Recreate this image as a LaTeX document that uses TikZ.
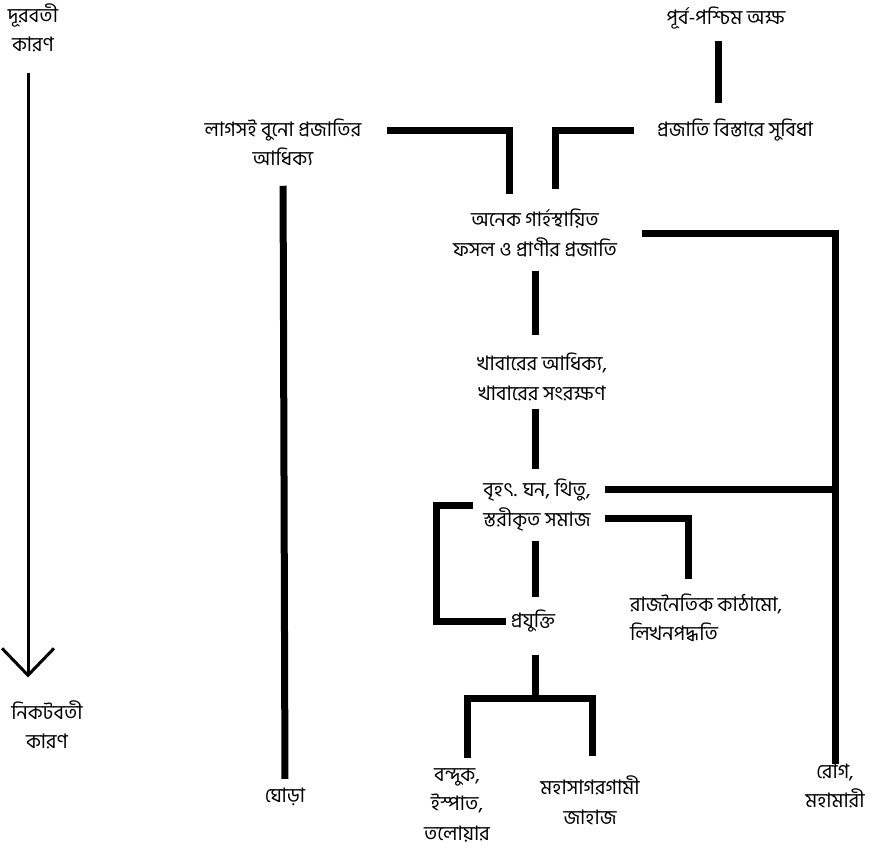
\documentclass[tikz,border=0pt]{standalone}
\usepackage{fontspec}
\newfontfamily\bnfont[Script=Bengali]{Hind Siliguri}
\usetikzlibrary{positioning, arrows.meta, calc}

\tikzset{
  lbl/.style={align=center, inner sep=0pt, font=\bnfont\fontsize{20}{29.5}\selectfont},
  bar/.style={line width=7pt, line join=miter, line cap=butt},
  zeit/.style={line width=3pt, -{Straight Barb[length=27pt, width=52pt, line width=3pt]}}
}

\begin{document}
\begin{tikzpicture}[x=1pt, y=-1pt]
    \useasboundingbox (0,0) rectangle (870,852);
    % Zeitachse links
    \node[lbl] (dur)   at (33,28)  {দূরবতী\\কারণ};
    \node[lbl] (nikot) at (47,725) {নিকটবতী\\কারণ};
    \draw[zeit, shorten <=20pt, shorten >=23pt] ([xshift=-5pt]dur.south) -- ([xshift=-19pt]nikot.north);
    % Knoten
    \node[lbl] (aksha)    at (726,18)  {পূর্ব-পশ্চিম অক্ষ};
    \node[lbl] (bistar)   at (735,130) {প্রজাতি বিস্তারে সুবিধা};
    \node[lbl] (lagsai)   at (283,142) {লাগসই বুনো প্রজাতির\\আধিক্য};
    \node[lbl] (anek)     at (535,233) {অনেক গার্হস্থায়িত\\ফসল ও প্রাণীর প্রজাতি};
    \node[lbl] (khabar)   at (542,377) {খাবারের আধিক্য,\\খাবারের সংরক্ষণ};
    \node[lbl] (samaj)    at (537,505) {বৃহৎ. ঘন, থিতু,\\স্তরীকৃত সমাজ};
    \node[lbl, align=left, anchor=west] (rajniti) at (630,618) {রাজনৈতিক কাঠামো,\\লিখনপদ্ধতি};
    \node[lbl] (prajukti) at (533,621) {প্রযুক্তি};
    \node[lbl] (ghora)    at (285,797) {ঘোড়া};
    \node[lbl] (bonduk)   at (457,805) {বন্দুক,\\ইস্পাত,\\তলোয়ার};
    \node[lbl] (jahaj)    at (590,800) {মহাসাগরগামী\\জাহাজ};
    \node[lbl] (rog)      at (835,786) {রোগ,\\মহামারী};
    % Verbindungen
    \draw[bar, shorten <=12pt, shorten >=16pt] ([xshift=-8pt]aksha.south) -- ([xshift=-8pt]aksha.south |- bistar.north);
    \draw[bar, shorten <=26pt] (lagsai.east |- bistar.west) -| ([xshift=-26pt, yshift=15pt]anek.north);
    \draw[bar, shorten <=23pt] (bistar.west) -| ([xshift=20pt, yshift=20pt]anek.north);
    \draw[bar, shorten <=20pt, shorten >=9pt] (lagsai.south) -- (ghora.north);
    \draw[bar, shorten <=25pt] (anek.east) -| (rog.north);
    \draw[bar, shorten <=14pt, shorten >=18pt] (anek.south) -- (khabar.north -| anek.south);
    \draw[bar, shorten <=8pt, shorten >=10pt] (khabar.south -| anek.south) -- (samaj.north -| anek.south);
    \draw[bar, shorten <=14pt] ($(samaj.east)+(0,-16)$) -- ($(samaj.east -| rog.north)+(0,-16)$);
    \draw[bar, shorten <=14pt] ($(samaj.east)+(0,13)$) -| ([xshift=-18pt, yshift=15pt]rajniti.north);
    \draw[bar, shorten <=10pt, shorten >=13pt] (samaj.south -| anek.south) -- (prajukti.north -| anek.south);
    \draw[bar, shorten <=5pt, shorten >=10pt] (prajukti.west) -- ++(-74,0) |- (samaj.west);
    \draw[bar, shorten <=23pt] (prajukti.south -| anek.south) -- ++(0,66) coordinate (gabel);
    \draw[bar, shorten <=10pt, shorten >=20pt] ([xshift=10pt]bonduk.north) |- (gabel) -| ([xshift=2pt]jahaj.north);
  \end{tikzpicture}
\end{document}
